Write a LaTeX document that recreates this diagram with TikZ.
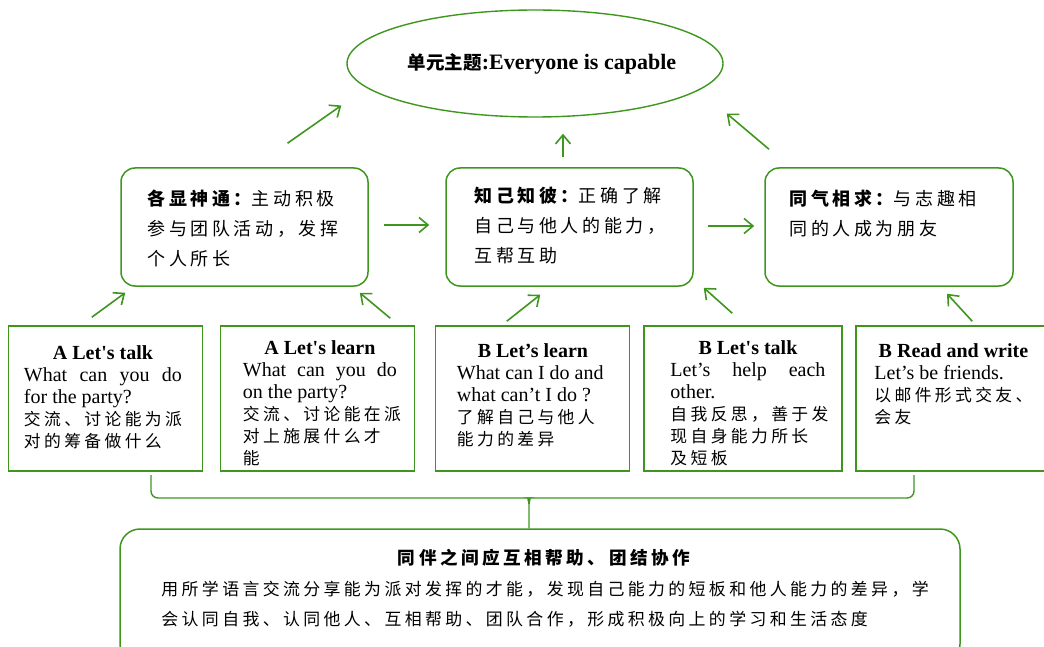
\documentclass[tikz,border=0pt]{standalone}
\usepackage{fontspec}
\setmainfont{Liberation Serif}
\newfontfamily\cjkfont[LetterSpace=20]{Noto Sans CJK SC}
\newfontfamily\cjktight{Noto Sans CJK SC}
\usetikzlibrary{arrows.meta}
\usetikzlibrary{shapes.geometric}
\usetikzlibrary{positioning}
\definecolor{boxgreen}{RGB}{62,150,30}
\newcommand{\zh}[1]{{\cjkfont\fontsize{16.8}{22}\selectfont #1}}
\newcommand{\spread}[1]{\makebox[\linewidth][s]{#1}}
\tikzset{
    themeellipse/.style={ellipse, draw=boxgreen, line width=1.4pt, minimum width=376pt, minimum height=107pt, inner sep=0pt},
    roundbox/.style={draw=boxgreen, line width=1.5pt, rounded corners=14pt, minimum width=247pt, minimum height=118pt, inner sep=0pt},
    lessonbox/.style={draw=boxgreen, line width=1.5pt, minimum width=194pt, minimum height=145pt, inner sep=0pt},
    lessontext/.style={inner sep=0pt, align=left, font=\fontsize{20}{22}\selectfont, execute at begin node={\spaceskip=0pt\xspaceskip=0pt\relax}},
    midtext/.style={inner sep=0pt, align=left, font=\cjkfont\fontsize{18}{30}\selectfont},
    greenarrow/.style={draw=boxgreen, line width=1.6pt, -{Straight Barb[length=9pt,width=15pt]}},
    bracketline/.style={draw=boxgreen, line width=1.4pt}
}

\begin{document}
\begin{tikzpicture}[x=1pt, y=-1pt]

		\useasboundingbox (0,0) rectangle (1044,647);
		\clip (0,0) rectangle (1044,647);

		\node[themeellipse] (theme) at (535,63.5) {};
		\node[inner sep=0pt] (themetext) at ([xshift=7pt]theme.center) {{\cjktight\bfseries\fontsize{18.5}{22}\selectfont 单元主题}{\bfseries\fontsize{22}{26}\selectfont :Everyone is capable}};

		\node[roundbox] (show) at (244.5,227) {};
		\node[roundbox] (know) at (569.5,227) {};
		\node[roundbox, minimum width=248pt] (alike) at (889,227) {};

		\node[midtext, below right=22pt and 27pt of show.north west] (showtext) {{\bfseries 各显神通：}主动积极\\ 参与团队活动，发挥\\ 个人所长};
		\node[midtext, below right=20pt and 29pt of know.north west] (knowtext) {{\bfseries 知己知彼：}正确了解\\ 自己与他人的能力，\\ 互帮互助};
		\node[midtext, below right=23pt and 25pt of alike.north west] (aliketext) {{\bfseries 同气相求：}与志趣相\\ 同的人成为朋友};

		\node[lessonbox] (talkA) at (105.5,398.5) {};
		\node[lessonbox] (learnA) at (317.5,398.5) {};
		\node[lessonbox] (learnB) at (532.5,398.5) {};
		\node[lessonbox, minimum width=198pt] (talkB) at (743,398.5) {};
		\node[lessonbox] (readB) at (953,398.5) {};

		\node[lessontext, text width=158pt, below right=20pt and 16pt of talkA.north west] (talkAtext) {\makebox[\linewidth]{\bfseries A Let\textquotesingle s talk}\\ \spread{What can you do}\\ for the party?\\ \zh{交流、讨论能为派}\\ \zh{对的筹备做什么}};

		\node[lessontext, text width=154pt, below right=15pt and 23pt of learnA.north west] (learnAtext) {\makebox[\linewidth]{\bfseries A Let\textquotesingle s learn}\\ \spread{What can you do}\\ on the party?\\ \zh{交流、讨论能在派}\\ \zh{对上施展什么才}\\ \zh{能}};

		\node[lessontext, text width=152pt, below right=18pt and 22pt of learnB.north west] (learnBtext) {\makebox[\linewidth]{\bfseries B Let’s learn}\\ What can I do and\\ what can’t I do ?\\ \zh{了解自己与他人}\\ \zh{能力的差异}};

		\node[lessontext, text width=155pt, below right=15pt and 27pt of talkB.north west] (talkBtext) {\makebox[\linewidth]{\bfseries B Let\textquotesingle s talk}\\ \spread{Let’s help each}\\ other.\\ \zh{自我反思，善于发}\\ \zh{现自身能力所长}\\ \zh{及短板}};

		\node[lessontext, text width=158pt, below right=18pt and 19pt of readB.north west] (readBtext) {\makebox[\linewidth]{\bfseries B Read and write}\\ Let’s be friends.\\ \zh{以邮件形式交友、}\\ \zh{会友}};

		\node[draw=boxgreen, line width=1.5pt, rounded corners=20pt, minimum width=840pt, minimum height=135pt] (summary) at (540,596.5) {};

		\node[inner sep=0pt, font=\cjkfont\bfseries\fontsize{17.6}{30}\selectfont, below=21pt of summary.north, xshift=4pt] (summarytitle) {同伴之间应互相帮助、团结协作};

		\node[inner sep=0pt, align=left, font=\cjkfont\fontsize{16.9}{30}\selectfont, below right=53pt and 42pt of summary.north west] (summarybody) {用所学语言交流分享能为派对发挥的才能，发现自己能力的短板和他人能力的差异，学\\ 会认同自我、认同他人、互相帮助、团队合作，形成积极向上的学习和生活态度};

		\draw[greenarrow] ([shift={(43,-24)}]show.north) -- ([shift={(-5,42)}]theme.west);
		\draw[greenarrow] ([shift={(-6.5,-10)}]know.north) -- ([shift={(28,16)}]theme.south);
		\draw[greenarrow] ([shift={(-120,-18)}]alike.north) -- ([shift={(3,50)}]theme.east);

		\draw[greenarrow] ([shift={(15,-2)}]show.east) -- ([shift={(-16,-2)}]know.west);
		\draw[greenarrow] ([shift={(14,-1)}]know.east) -- ([shift={(-10,-1)}]alike.west);

		\draw[greenarrow] ([shift={(84,-8)}]talkA.north west) -- ([shift={(5,6)}]show.south west);
		\draw[greenarrow] ([shift={(-25,-7)}]learnA.north east) -- ([shift={(-9,6)}]show.south east);
		\draw[greenarrow] ([shift={(72,-4)}]learnB.north west) -- ([shift={(95,8)}]know.south west);
		\draw[greenarrow] ([shift={(89,-12)}]talkB.north west) -- ([shift={(10,1)}]know.south east);
		\draw[greenarrow] ([shift={(117,-4)}]readB.north west) -- ([shift={(58,7)}]alike.south);

		\coordinate (braceleft) at (151,475);
		\coordinate (braceright) at (914,475);
		\coordinate (bracetip) at (529,498);

		\draw[bracketline, rounded corners=7pt] (braceleft) |- ([xshift=-6pt]bracetip) [sharp corners] to[out=0, in=90] ([yshift=-6pt]bracetip) -- (bracetip |- summary.north);
		\draw[bracketline, rounded corners=7pt] (braceright) |- ([xshift=6pt]bracetip) [sharp corners] to[out=180, in=90] ([yshift=-6pt]bracetip);

\end{tikzpicture}
\end{document}
